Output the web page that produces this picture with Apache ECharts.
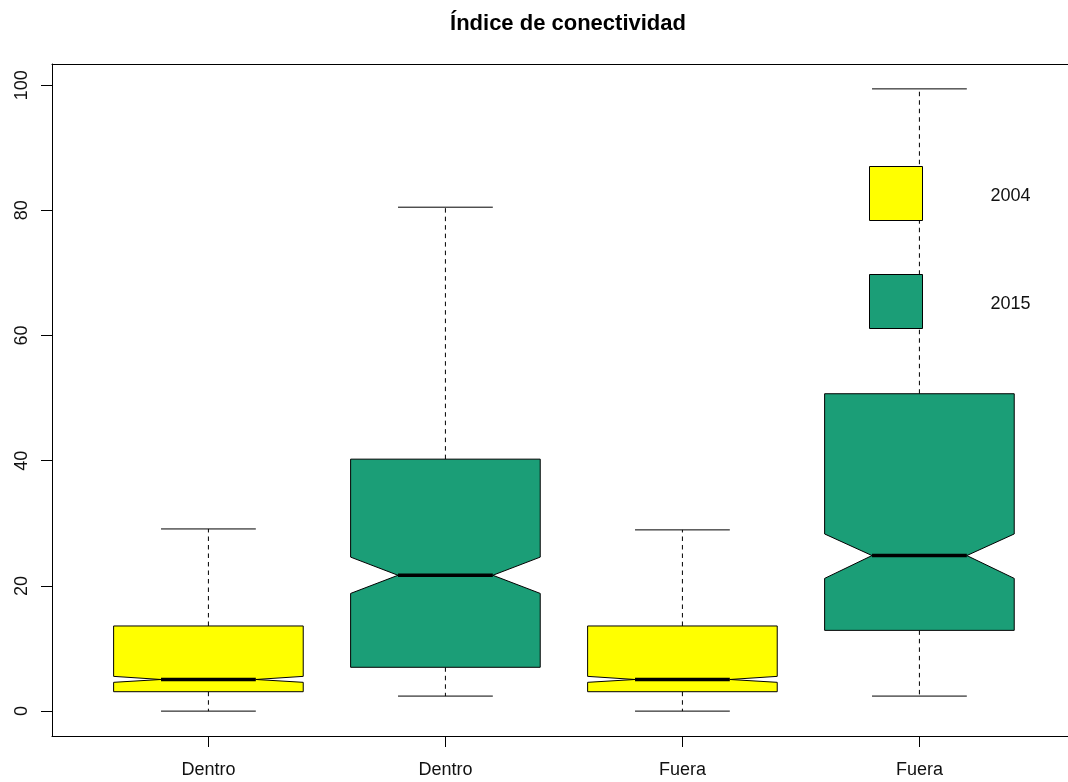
<!DOCTYPE html>
<html>
<head>
<meta charset="utf-8">
<title>Índice de conectividad</title>
<script src="https://cdn.jsdelivr.net/npm/echarts@6/dist/echarts.min.js"></script>
<style>
  html, body { margin: 0; padding: 0; background: #fff; }
  #chart { width: 1068px; height: 782px; }
</style>
</head>
<body>
<div id="chart"></div>
<script>
// Group labels along the x axis (one box per position)
const categories = ['Dentro', 'Dentro', 'Fuera', 'Fuera'];
const positions = [1, 2, 3, 4];
const years = ['2004', '2015'];
const yearColors = ['#FFFF00', '#1B9E77'];

// Box statistics per year: [position, lower whisker, Q1, notch low, median, notch high, Q3, upper whisker]
const stats2004 = [
  [1, 0.0, 3.1, 4.6, 5.05, 5.55, 13.6, 29.1],
  [3, 0.0, 3.1, 4.6, 5.05, 5.55, 13.6, 28.95]
];
const stats2015 = [
  [2, 2.4, 7.0, 18.8, 21.7, 24.6, 40.25, 80.5],
  [4, 2.4, 12.9, 21.2, 24.85, 28.3, 50.7, 99.4]
];

const yTicks = [0, 20, 40, 60, 80, 100];

const BOX_WIDTH = 0.8;      // in axis units
const STAPLE_WIDTH = 0.4;
const FONT = '"Liberation Sans", Arial, Helvetica, sans-serif';

// Plot area: the frame runs past the right edge of the canvas
const GRID_LEFT = 52, GRID_TOP = 64, GRID_W = 1016, GRID_H = 672;
const PX_PER_UNIT = 237;

// y extent padded by 4% on each side of the data range
const allVals = stats2004.concat(stats2015).flatMap(r => r.slice(1));
const vMin = Math.min(...allVals), vMax = Math.max(...allVals);
const pad = (vMax - vMin) * 0.04;
const xMin = 0.5 - positions.length * 0.04;
const xMax = xMin + GRID_W / PX_PER_UNIT;

function renderBox(params, api) {
  const x = api.value(0);
  const low = api.value(1), q1 = api.value(2), nLo = api.value(3),
        med = api.value(4), nHi = api.value(5), q3 = api.value(6), high = api.value(7);
  const cx = api.coord([x, med])[0];
  const hw = api.size([BOX_WIDTH, 0])[0] / 2;
  const sw = api.size([STAPLE_WIDTH, 0])[0] / 2;
  const y = v => api.coord([x, v])[1];
  const L = cx - hw, R = cx + hw, nl = cx - hw / 2, nr = cx + hw / 2;
  const dash = { stroke: '#000', lineWidth: 1, lineDash: [4.5, 4] };
  const solid = { stroke: '#000', lineWidth: 1 };
  return {
    type: 'group',
    children: [
      { type: 'line', shape: { x1: cx, y1: y(q3), x2: cx, y2: y(high) }, style: dash },
      { type: 'line', shape: { x1: cx, y1: y(q1), x2: cx, y2: y(low) }, style: dash },
      { type: 'line', shape: { x1: cx - sw, y1: y(high), x2: cx + sw, y2: y(high) }, style: solid },
      { type: 'line', shape: { x1: cx - sw, y1: y(low), x2: cx + sw, y2: y(low) }, style: solid },
      {
        type: 'polygon',
        shape: {
          points: [
            [L, y(q3)], [R, y(q3)], [R, y(nHi)], [nr, y(med)], [R, y(nLo)],
            [R, y(q1)], [L, y(q1)], [L, y(nLo)], [nl, y(med)], [L, y(nHi)]
          ]
        },
        style: { fill: api.visual('color'), stroke: '#000', lineWidth: 1 }
      },
      { type: 'line', shape: { x1: nl, y1: y(med), x2: nr, y2: y(med) }, style: { stroke: '#000', lineWidth: 3.5 } }
    ]
  };
}

const chart = echarts.init(document.getElementById('chart'), null, { renderer: 'canvas' });

chart.setOption({
  backgroundColor: '#fff',
  animation: false,
  title: {
    text: 'Índice de conectividad',
    left: 563,
    textAlign: 'center',
    top: 8,
    textStyle: { fontFamily: FONT, fontSize: 22, fontWeight: 'bold', color: '#000' }
  },
  legend: {
    orient: 'vertical',
    left: 869,
    top: 166,
    padding: 0,
    itemWidth: 53,
    itemHeight: 54,
    itemGap: 53,
    selectedMode: false,
    data: years.map(y => ({ name: y, icon: 'rect' })),
    itemStyle: { borderColor: '#000', borderWidth: 1 },
    formatter: name => '{t|' + name + '}',
    textStyle: {
      fontFamily: FONT, fontSize: 18, color: '#111',
      rich: { t: { fontFamily: FONT, fontSize: 18, color: '#111', padding: [6, 0, 0, 63] } }
    }
  },
  grid: {
    left: GRID_LEFT, top: GRID_TOP, width: GRID_W, height: GRID_H,
    show: false
  },
  xAxis: [
    {
      type: 'value',
      position: 'bottom',
      min: xMin,
      max: xMax,
      splitLine: { show: false },
      axisLine: { show: true, onZero: false, lineStyle: { color: '#000', width: 1 } },
      axisTick: { show: true, length: 11, lineStyle: { color: '#000' }, customValues: positions },
      axisLabel: {
        customValues: positions,
        formatter: v => categories[positions.indexOf(Math.round(v))] || '',
        margin: 25,
        fontFamily: FONT, fontSize: 18, color: '#111'
      }
    },
    {
      // top edge of the plot frame
      type: 'value',
      position: 'top',
      min: xMin,
      max: xMax,
      splitLine: { show: false },
      axisLine: { show: true, onZero: false, lineStyle: { color: '#000', width: 1 } },
      axisTick: { show: false },
      axisLabel: { show: false }
    }
  ],
  yAxis: {
    type: 'value',
    min: vMin - pad,
    max: vMax + pad,
    splitLine: { show: false },
    axisLine: { show: true, onZero: false, lineStyle: { color: '#000', width: 1 } },
    axisTick: { show: true, length: 11, lineStyle: { color: '#000' }, customValues: yTicks },
    axisLabel: {
      customValues: yTicks,
      rotate: 90,
      margin: 21,
      fontFamily: FONT, fontSize: 18, color: '#111'
    }
  },
  series: [
    {
      name: years[0],
      type: 'custom',
      renderItem: renderBox,
      itemStyle: { color: yearColors[0], borderColor: '#000', borderWidth: 1 },
      encode: { x: 0, y: [1, 2, 3, 4, 5, 6, 7] },
      data: stats2004
    },
    {
      name: years[1],
      type: 'custom',
      renderItem: renderBox,
      itemStyle: { color: yearColors[1], borderColor: '#000', borderWidth: 1 },
      encode: { x: 0, y: [1, 2, 3, 4, 5, 6, 7] },
      data: stats2015
    }
  ]
});
</script>
</body>
</html>
